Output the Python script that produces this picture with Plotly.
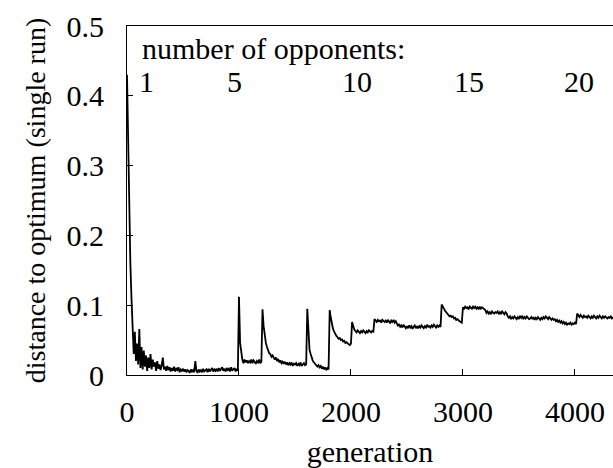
import plotly.graph_objects as go

# generations sampled every 10 (0 .. 4340)
gen_step = 10
# distance to optimum, in thousandths, one row per 100 generations
dist_milli = [
    430, 330, 240, 160, 110, 50, 30, 62, 20, 45,      # 0
    15, 66, 10, 40, 8, 35, 12, 28, 6, 25,            # 100
    10, 30, 8, 22, 12, 18, 6, 20, 9, 15,             # 200
    7, 14, 25, 8, 12, 6, 13, 7, 11, 5,               # 300
    10, 6, 12, 5, 9, 7, 11, 4, 8, 6,                 # 400
    9, 5, 8, 4, 7, 6, 3, 8, 5, 7,                    # 500
    4, 20, 6, 3, 8, 5, 7, 4, 9, 5,                   # 600
    6, 8, 4, 9, 5, 7, 10, 5, 8, 6,                   # 700
    9, 5, 10, 6, 8, 11, 6, 9, 5, 10,                 # 800
    7, 9, 5, 11, 6, 8, 10, 5, 9, 6,                  # 900
    112, 46, 28, 22, 17, 22, 18, 21, 17, 20,         # 1000
    18, 22, 17, 21, 19, 16, 20, 18, 22, 17,          # 1100
    19, 94, 70, 55, 46, 40, 36, 31, 30, 26,          # 1200
    28, 24, 22, 25, 20, 23, 18, 21, 17, 19,          # 1300
    16, 19, 15, 18, 14, 17, 15, 18, 13, 16,          # 1400
    15, 17, 13, 16, 14, 18, 13, 15, 17, 14,          # 1500
    15, 95, 55, 36, 30, 24, 20, 18, 15, 14,          # 1600
    12, 14, 11, 13, 9, 12, 8, 11, 7, 10,             # 1700
    8, 93, 82, 72, 66, 62, 58, 56, 54, 52,           # 1800
    53, 50, 51, 48, 49, 46, 47, 45, 44, 43,          # 1900
    45, 76, 70, 65, 63, 61, 64, 62, 60, 63,          # 2000
    61, 64, 62, 60, 63, 61, 64, 62, 61, 63,          # 2100
    62, 80, 78, 76, 79, 77, 78, 75, 79, 77,          # 2200
    76, 78, 75, 79, 77, 74, 78, 76, 79, 75,          # 2300
    77, 72, 70, 73, 69, 71, 68, 72, 70, 67,          # 2400
    70, 67, 71, 68, 70, 66, 69, 71, 67, 70,          # 2500
    67, 70, 68, 71, 69, 67, 70, 68, 72, 69,          # 2600
    70, 68, 71, 69, 72, 70, 68, 71, 69, 71,          # 2700
    69, 101, 97, 95, 92, 90, 88, 86, 84, 85,         # 2800
    83, 84, 81, 82, 79, 80, 78, 77, 76, 75,          # 2900
    97, 95, 98, 96, 97, 94, 98, 96, 95, 98,          # 3000
    96, 98, 95, 97, 94, 98, 95, 97, 96, 94,          # 3100
    93, 89, 91, 88, 90, 87, 91, 89, 88, 90,          # 3200
    89, 91, 87, 90, 88, 91, 89, 87, 90, 88,          # 3300
    84, 82, 84, 80, 83, 81, 84, 82, 80, 83,          # 3400
    81, 84, 82, 85, 80, 83, 81, 84, 82, 80,          # 3500
    81, 83, 80, 83, 79, 82, 80, 83, 81, 79,          # 3600
    82, 80, 83, 81, 84, 82, 80, 83, 81, 79,          # 3700
    81, 79, 80, 77, 79, 76, 78, 75, 77, 74,          # 3800
    76, 73, 75, 72, 74, 73, 75, 72, 74, 73,          # 3900
    75, 73, 88, 85, 83, 86, 84, 82, 85, 83,          # 4000
    84, 82, 85, 83, 81, 84, 82, 85, 83, 81,          # 4100
    84, 82, 85, 83, 81, 84, 82, 84, 83, 81,          # 4200
    83, 82, 84, 81, 83,                              # 4300
]
generations = [i * gen_step for i in range(len(dist_milli))]
distance = [v / 1000 for v in dist_milli]

x_ticks = [0, 1000, 2000, 3000, 4000]
y_ticks = [0, 0.1, 0.2, 0.3, 0.4, 0.5]
y_tick_labels = ["0", "0.1", "0.2", "0.3", "0.4", "0.5"]
opponent_labels = ["1", "5", "10", "15", "20"]
opponent_label_x = [170, 960, 2050, 3050, 4040]

FONT = "Liberation Serif"
FS = 30
f_main = dict(family=FONT, size=FS, color="black")
f_ytitle = dict(family=FONT, size=28, color="black")

fig = go.Figure()
fig.add_trace(go.Scatter(
    x=generations, y=distance, mode="lines",
    line=dict(color="black", width=1.8), showlegend=False,
))

PL, PT, PB, PR = 127, 26, 375, 613
annotations = [dict(
    x=(140 - PL) / (PR - PL), y=1 - (49 - PT) / (PB - PT),
    xref="paper", yref="paper", xanchor="left", yanchor="middle",
    text="number of opponents:", showarrow=False, font=f_main)]
for lab, gx in zip(opponent_labels, opponent_label_x):
    annotations.append(dict(
        x=gx, y=1 - (81 - PT) / (PB - PT), xref="x", yref="paper",
        xanchor="center", yanchor="middle", text=lab, showarrow=False,
        font=f_main))

fig.update_layout(
    width=613, height=468,
    margin=dict(l=PL, r=613 - PR, t=PT, b=468 - PB, autoexpand=False),
    paper_bgcolor="white", plot_bgcolor="white",
    annotations=annotations,
    xaxis=dict(
        range=[0, 4340], tickvals=x_ticks, ticktext=[str(t) for t in x_ticks],
        ticks="inside", ticklen=6, tickcolor="black", tickwidth=1,
        showline=True, linecolor="black", linewidth=1, mirror=True,
        showgrid=False, zeroline=False, ticklabelstandoff=10, automargin=False,
        tickfont=f_main,
        title=dict(text="generation", standoff=14, font=f_main),
    ),
    yaxis=dict(
        range=[0, 0.5], tickvals=y_ticks, ticktext=y_tick_labels,
        ticks="inside", ticklen=6, tickcolor="black", tickwidth=1,
        showline=True, linecolor="black", linewidth=1, mirror=False,
        showgrid=False, zeroline=False, ticklabelstandoff=16, automargin=False,
        tickfont=f_main,
        title=dict(text="distance to optimum (single run)", standoff=12,
                   font=f_ytitle),
    ),
)

post_js = (
    "document.body.style.margin='0';"
    "document.querySelectorAll('svg text').forEach(function(t){"
    "t.style.setProperty('font-family', \"'Liberation Serif', 'Times New Roman', serif\", 'important');});"
)

fig.write_html("out.html", config={"displayModeBar": False},
               post_script=post_js)
